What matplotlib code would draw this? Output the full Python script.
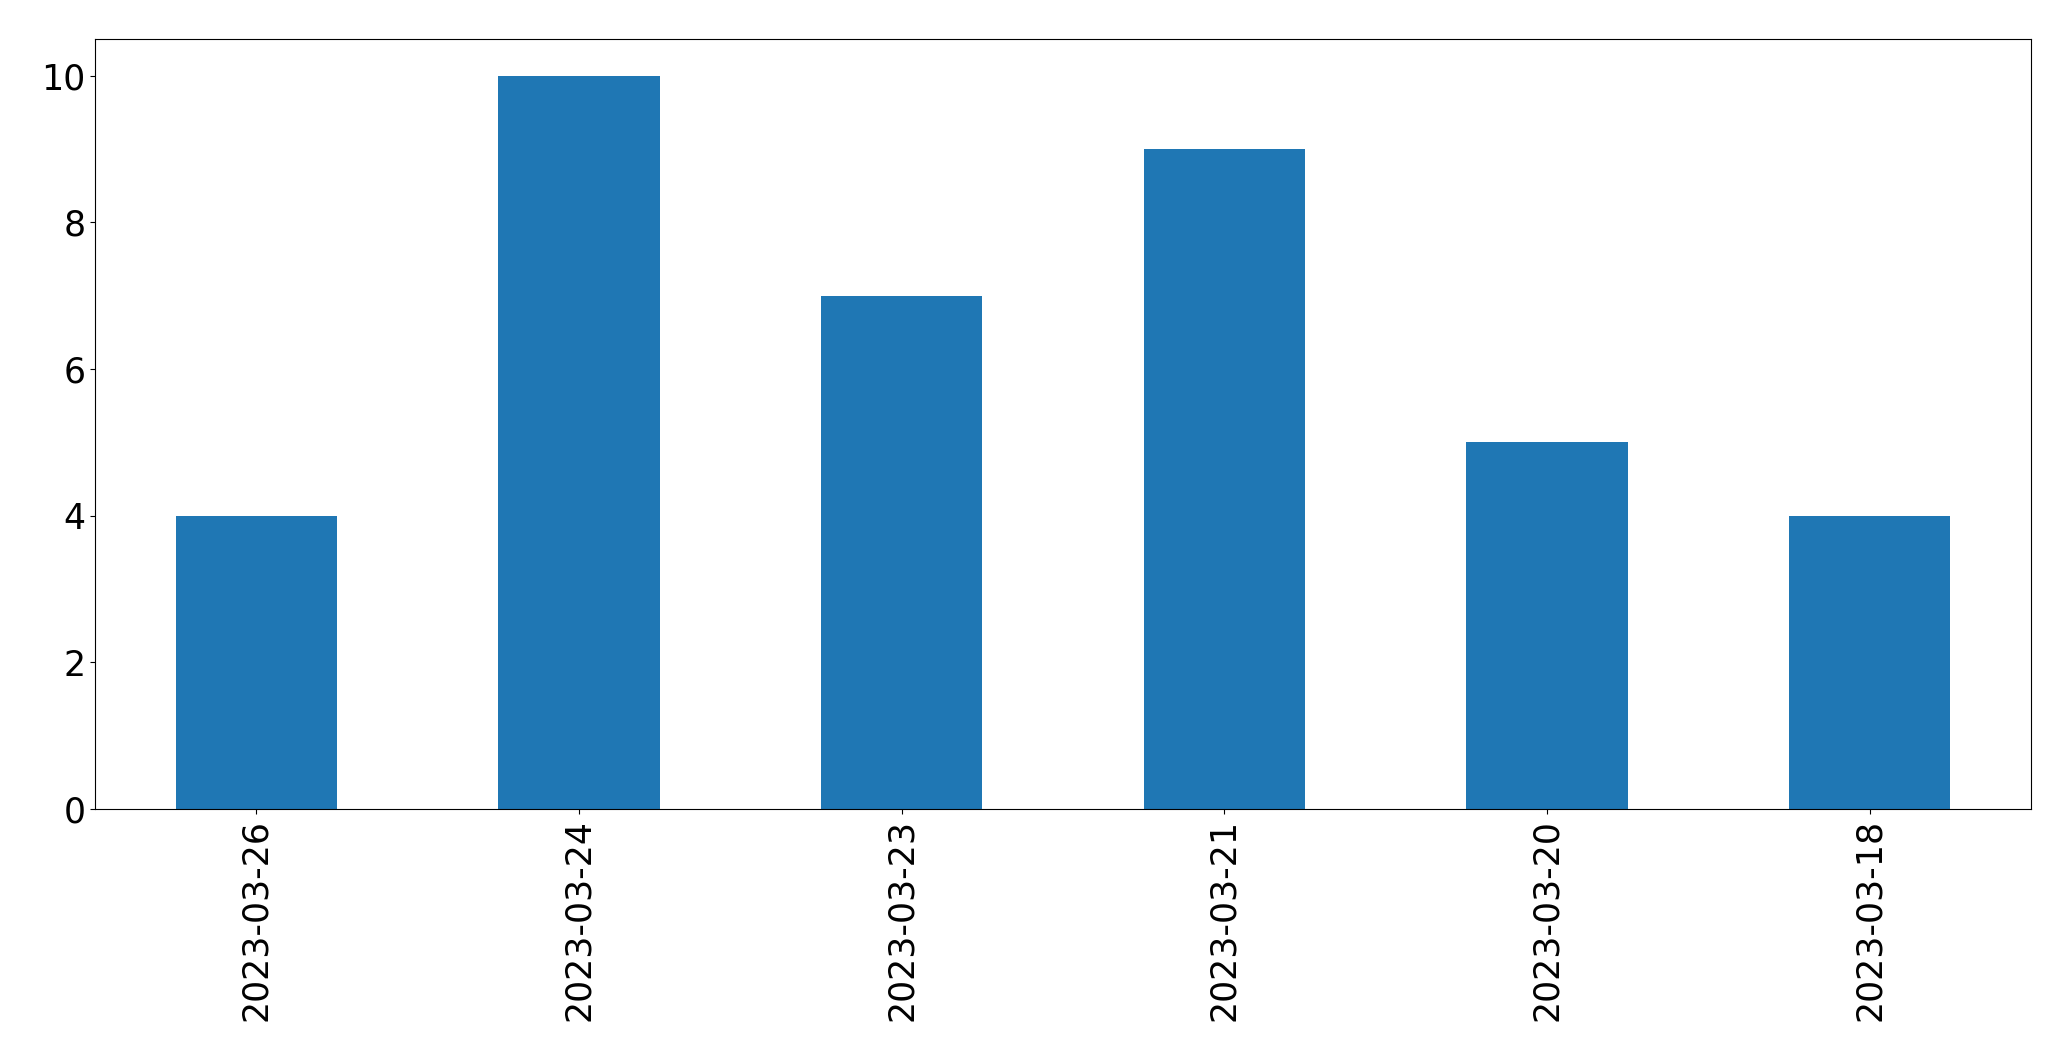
import matplotlib
matplotlib.use("Agg")
from matplotlib import pyplot as plt

dates = ["2023-03-26", "2023-03-24", "2023-03-23", "2023-03-21", "2023-03-20", "2023-03-18"]
counts = [4, 10, 7, 9, 5, 4]

fig = plt.figure(figsize=(20.71, 10.61), dpi=100)
ax = fig.add_axes([0.0459, 0.2375, 0.9348, 0.7257])

x = list(range(len(dates)))
ax.bar(x, counts, width=0.5, color="#1f77b4")
ax.set_xlim(-0.5, len(dates) - 0.5)
ax.set_ylim(0, 10.5)
ax.set_xticks(x)
ax.set_xticklabels(dates, rotation=90)
ax.tick_params(axis="both", labelsize=25)

fig.savefig("out.png", dpi=100)
